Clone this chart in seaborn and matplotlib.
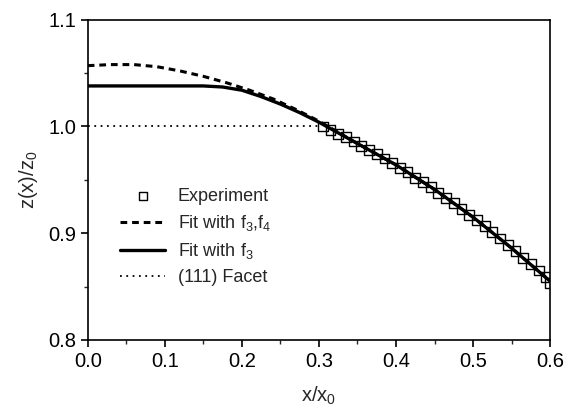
import numpy as np
import pandas as pd
import matplotlib
matplotlib.use("Agg")
import matplotlib.pyplot as plt
from matplotlib.ticker import MultipleLocator
import seaborn as sns

# Dados
exp_x = [0.305, 0.315, 0.325, 0.335, 0.345, 0.355, 0.365, 0.375, 0.385, 0.395,
         0.405, 0.415, 0.425, 0.435, 0.445, 0.455, 0.465, 0.475, 0.485, 0.495,
         0.505, 0.515, 0.525, 0.535, 0.545, 0.555, 0.565, 0.575, 0.585, 0.595, 0.600]
exp_z = [1.000, 0.997, 0.993, 0.990, 0.986, 0.982, 0.978, 0.974, 0.970, 0.966,
         0.961, 0.957, 0.952, 0.948, 0.943, 0.938, 0.933, 0.928, 0.923, 0.917,
         0.912, 0.907, 0.901, 0.895, 0.889, 0.883, 0.877, 0.871, 0.865, 0.859, 0.853]

fit34_x = [0.0, 0.03, 0.06, 0.09, 0.12, 0.15, 0.18, 0.21, 0.24, 0.27, 0.30,
           0.35, 0.40, 0.45, 0.50, 0.55, 0.60]
fit34_z = [1.057, 1.058, 1.058, 1.056, 1.052, 1.047, 1.041, 1.034, 1.026, 1.016, 1.005,
           0.984, 0.964, 0.941, 0.915, 0.886, 0.855]

fit3_x = [0.0, 0.15, 0.175, 0.2, 0.225, 0.25, 0.275, 0.30,
          0.35, 0.40, 0.45, 0.50, 0.55, 0.60]
fit3_z = [1.038, 1.038, 1.037, 1.034, 1.028, 1.021, 1.013, 1.004,
          0.984, 0.964, 0.941, 0.915, 0.886, 0.855]

facet_x = [0.0, 0.30]
facet_z = [1.0, 1.0]

sns.set_style("ticks")
plt.rcParams['font.family'] = ['Liberation Sans', 'DejaVu Sans']
plt.rcParams['mathtext.default'] = 'regular'

fig = plt.figure(figsize=(5.66, 4.12), dpi=100)
ax = fig.add_axes([0.155, 0.175, 0.817, 0.777])

sns.scatterplot(x=exp_x, y=exp_z, marker='s', s=50, facecolor='none',
                edgecolor='black', linewidth=1.0, ax=ax, zorder=2,
                label='Experiment')
sns.lineplot(x=fit34_x, y=fit34_z, color='black', lw=2.2, ax=ax, zorder=3,
             linestyle=(0, (2.2, 1.6)), label='Fit with f$_3$,f$_4$')
sns.lineplot(x=fit3_x, y=fit3_z, color='black', lw=2.4, ax=ax, zorder=3,
             label='Fit with f$_3$')
sns.lineplot(x=facet_x, y=facet_z, color='black', lw=1.3, ax=ax, zorder=3,
             linestyle=(0, (1, 2.5)), label='(111) Facet')

ax.set_xlim(0.0, 0.6)
ax.set_ylim(0.8, 1.1)
ax.xaxis.set_major_locator(MultipleLocator(0.1))
ax.xaxis.set_minor_locator(MultipleLocator(0.05))
ax.yaxis.set_major_locator(MultipleLocator(0.1))
ax.yaxis.set_minor_locator(MultipleLocator(0.05))
ax.tick_params(which='major', direction='out', length=5, width=1.2, labelsize=14.5, colors='black')
ax.tick_params(which='minor', direction='out', length=3, width=1.0)
for s in ax.spines.values():
    s.set_linewidth(1.2)
    s.set_color('black')

ax.set_xlabel('x/x$_0$', fontsize=14.5, labelpad=10)
ax.set_ylabel('z(x)/z$_0$', fontsize=14.5, labelpad=6)

leg = ax.legend(loc='upper left', bbox_to_anchor=(0.035, 0.525), frameon=False,
                fontsize=13, handlelength=2.5, labelspacing=0.45, handletextpad=0.7,
                markerscale=0.8)

fig.savefig('out.png', dpi=100)
